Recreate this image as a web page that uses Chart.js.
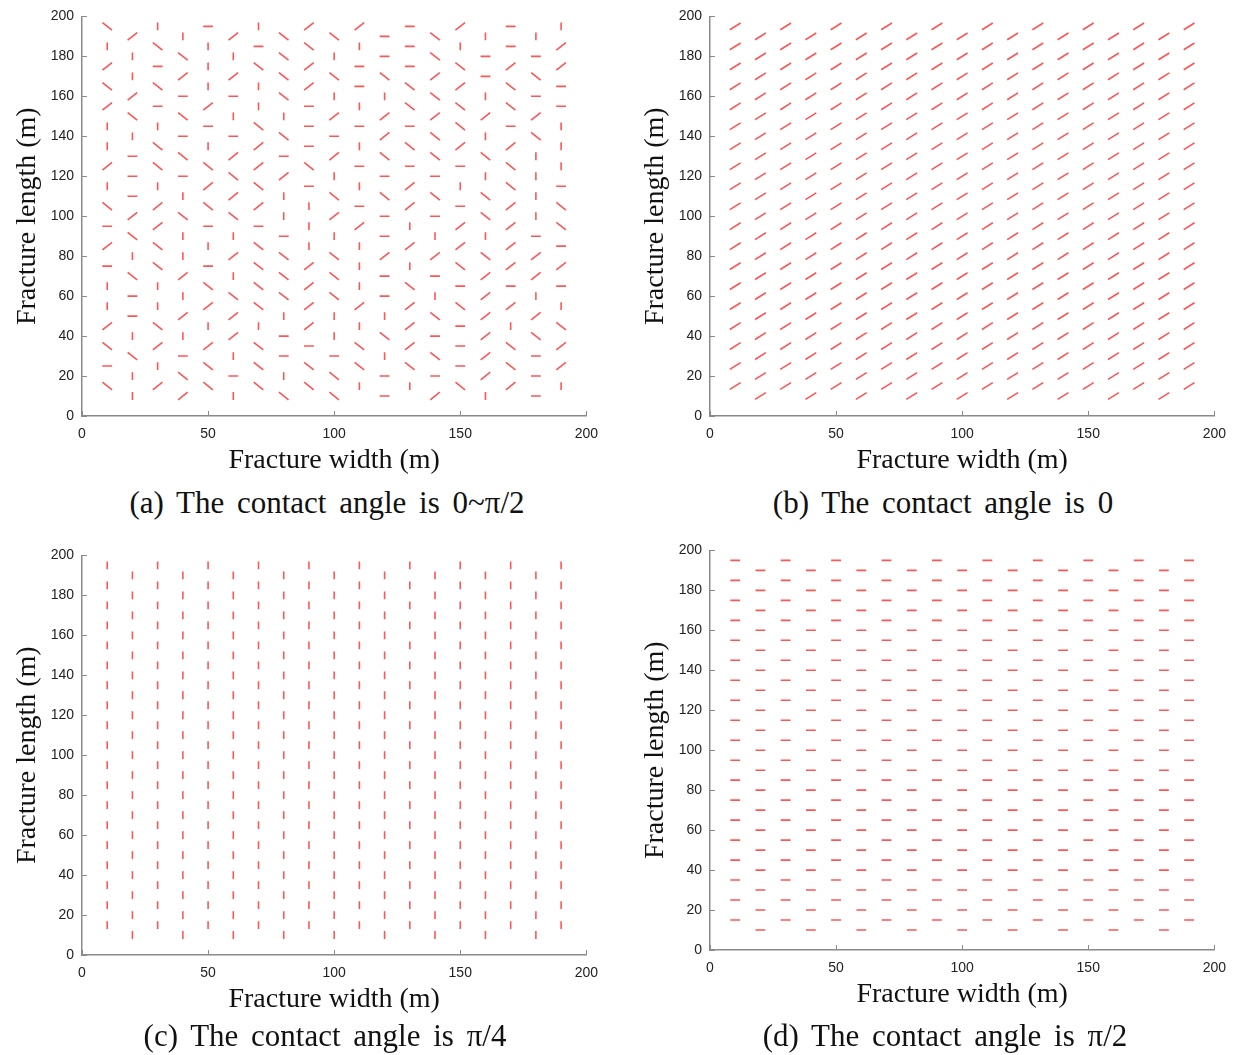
<!DOCTYPE html>
<html>
<head>
<meta charset="utf-8">
<script src="https://cdn.jsdelivr.net/npm/chart.js@4.4.1/dist/chart.umd.min.js"></script>
<style>
  body { margin: 0; background: #fff; width: 1236px; height: 1055px; overflow: hidden; position: relative; }
  .panel { position: absolute; width: 608px; height: 480px; }
  .caption {
    position: absolute; transform: translate(-50%, -50%);
    font-family: "Liberation Serif", "Times New Roman", serif; font-size: 31px;
    color: #111; white-space: pre; word-spacing: 5px;
  }
</style>
</head>
<body>
<div class="panel" style="left:0;top:0"><canvas id="chartA" width="608" height="480"></canvas></div>
<div class="panel" style="left:628px;top:0"><canvas id="chartB" width="608" height="480"></canvas></div>
<div class="panel" style="left:0;top:539px"><canvas id="chartC" width="608" height="480"></canvas></div>
<div class="panel" style="left:628px;top:534px"><canvas id="chartD" width="608" height="480"></canvas></div>

<div class="caption" style="left:327px;top:503px">(a) The contact angle is 0~π/2</div>
<div class="caption" style="left:943px;top:503px">(b) The contact angle is 0</div>
<div class="caption" style="left:325px;top:1036px">(c) The contact angle is π/4</div>
<div class="caption" style="left:945px;top:1036px">(d) The contact angle is π/2</div>

<script>
// === DATOS ===
// columnas de fracturas (x, m)
const COLUMNS = [10, 20, 30, 40, 50, 60, 70, 80, 90, 100, 110, 120, 130, 140, 150, 160, 170, 180, 190];
// filas, de arriba a abajo: columnas impares (10, 30, ...) y pares (20, 40, ...)
const ROWS_ODD = [195, 185, 175, 165, 155, 145, 135, 125, 115, 105, 95, 85, 75, 65, 55, 45, 35, 25, 15];
const ROWS_EVEN = [190, 180, 170, 160, 150, 140, 130, 120, 110, 100, 90, 80, 70, 60, 50, 40, 30, 20, 10];

// orientación de cada fractura en (a), una cadena por columna, de arriba a abajo
// V = vertical, H = horizontal, F = "/", B = "\"
const ORIENT_A = [
  "BVFBFVVFVBHFHVVFBHB", // 10
  "FVVFBVHHHFBVBHHVBVV", // 20
  "VBHBHVBBVFFBBVVBFVF", // 30
  "VBFHBHBHVBVVFVFVHBF", // 40
  "HVVVFHVBFBHVHBFVFBB", // 50
  "FVFHVHFBFBVFVBFFVHV", // 60
  "VHBVVBFFBFHBBBBVBBB", // 70
  "BBBBVBHFVVHBBBVHHVB", // 80
  "FBFFHHHBHVVVFFFFHBB", // 90
  "BVBVFHFVBFVBBBVVHBB", // 100
  "FVHHVHVHVHFVVVFVBBV", // 110
  "HHBVFFBHBHHFHHVBVHH", // 120
  "HHHBBHBHFFVFVBFFFBV", // 130
  "BBFBFBBHBHVFHVBHBHF", // 140
  "FVBFBBFHVHFFBHBHHHB", // 150
  "VHHVFVBVBBVBFFFFFFV", // 160
  "HHFBBHFBBFFFFHFVBBF", // 170
  "VHBHFBVVVVHFFVFBHHH", // 180
  "VFFHHVVVHBBHFHVBFFV"  // 190
];
const ORIENT_B = "F"; // ángulo 0: todas inclinadas
const ORIENT_C = "V"; // π/4: todas verticales
const ORIENT_D = "H"; // π/2: todas horizontales

const X_TICKS = [0, 50, 100, 150, 200];
const Y_TICKS = [0, 20, 40, 60, 80, 100, 120, 140, 160, 180, 200];

// === ESTILO ===
const RED = "#ff5555";
const AXIS = "#8a8a8a";
const HALF = { H: [1.95, 0], V: [0, 1.95], F: [1.9, 1.9], B: [1.9, -1.9] };
const HALF_B = { F: [2.15, 1.7] };

function buildSegments(orientFor, half) {
  const pts = [];
  COLUMNS.forEach(function (cx, i) {
    const rows = i % 2 === 0 ? ROWS_ODD : ROWS_EVEN;
    rows.forEach(function (cy, j) {
      const d = half[orientFor(i, j)];
      pts.push({ x: cx - d[0], y: cy - d[1] });
      pts.push({ x: cx + d[0], y: cy + d[1] });
      pts.push({ x: cx, y: null }); // corte entre fracturas
    });
  });
  return pts;
}

// marcas de eje hacia dentro (estilo MATLAB)
const inwardTicks = {
  id: "inwardTicks",
  afterDatasetsDraw(chart) {
    const { ctx, chartArea, scales } = chart;
    ctx.save();
    ctx.strokeStyle = AXIS;
    ctx.lineWidth = 1;
    ctx.beginPath();
    X_TICKS.forEach(function (v) {
      const px = Math.round(scales.x.getPixelForValue(v)) + 0.5;
      ctx.moveTo(px, chartArea.bottom);
      ctx.lineTo(px, chartArea.bottom - 5);
    });
    Y_TICKS.forEach(function (v) {
      const py = Math.round(scales.y.getPixelForValue(v)) + 0.5;
      ctx.moveTo(chartArea.left, py);
      ctx.lineTo(chartArea.left + 5, py);
    });
    ctx.stroke();
    ctx.restore();
  }
};

function makeChart(id, data, half, box) {
  const chart = new Chart(document.getElementById(id), {
    type: "scatter",
    data: {
      datasets: [{
        data: buildSegments(data, half),
        showLine: true,
        spanGaps: false,
        borderColor: RED,
        borderWidth: 1.6,
        pointRadius: 0,
        pointHoverRadius: 0
      }]
    },
    options: {
      responsive: false,
      animation: false,
      events: [],
      layout: { padding: { left: 0, top: 0, right: 0, bottom: 0 } },
      plugins: { legend: { display: false }, tooltip: { enabled: false } },
      scales: {
        x: {
          type: "linear", min: 0, max: 200,
          afterBuildTicks: function (s) { s.ticks = X_TICKS.map(function (v) { return { value: v }; }); },
          afterFit: function (s) { s.height = 480 - box.bottom; },
          grid: { display: false, drawTicks: false },
          border: { display: true, color: AXIS, width: 1.5 },
          ticks: { padding: 10, color: "#222", font: { family: "Liberation Sans", size: 14 }, maxRotation: 0 },
          title: {
            display: true, text: "Fracture width (m)", color: "#111",
            font: { family: "Liberation Serif", size: 28 }, padding: { top: 0, bottom: 3 }
          }
        },
        y: {
          type: "linear", min: 0, max: 200,
          afterBuildTicks: function (s) { s.ticks = Y_TICKS.map(function (v) { return { value: v }; }); },
          afterFit: function (s) { s.width = box.left; },
          grid: { display: false, drawTicks: false },
          border: { display: true, color: AXIS, width: 1.5 },
          ticks: { padding: 8, color: "#222", font: { family: "Liberation Sans", size: 14 } },
          title: {
            display: true, text: "Fracture length (m)", color: "#111",
            font: { family: "Liberation Serif", size: 28 }, padding: { top: 11, bottom: 0 }
          }
        }
      }
    },
    plugins: [inwardTicks]
  });

  // ajustar el área del gráfico a la posición de la figura original
  for (let k = 0; k < 3; k++) {
    const a = chart.chartArea;
    const p = chart.options.layout.padding;
    chart.options.layout.padding = {
      left: p.left, bottom: p.bottom,
      top: p.top + (box.top - a.top),
      right: p.right + (a.right - box.right)
    };
    chart.update("none");
  }
  return chart;
}

const AREA = { left: 82, top: 17, right: 588, bottom: 416 };

makeChart("chartA", function (i, j) { return ORIENT_A[i][j]; }, HALF, AREA);
makeChart("chartB", function () { return ORIENT_B; }, HALF_B, AREA);
makeChart("chartC", function () { return ORIENT_C; }, HALF, AREA);
makeChart("chartD", function () { return ORIENT_D; }, HALF, AREA);
</script>
</body>
</html>
